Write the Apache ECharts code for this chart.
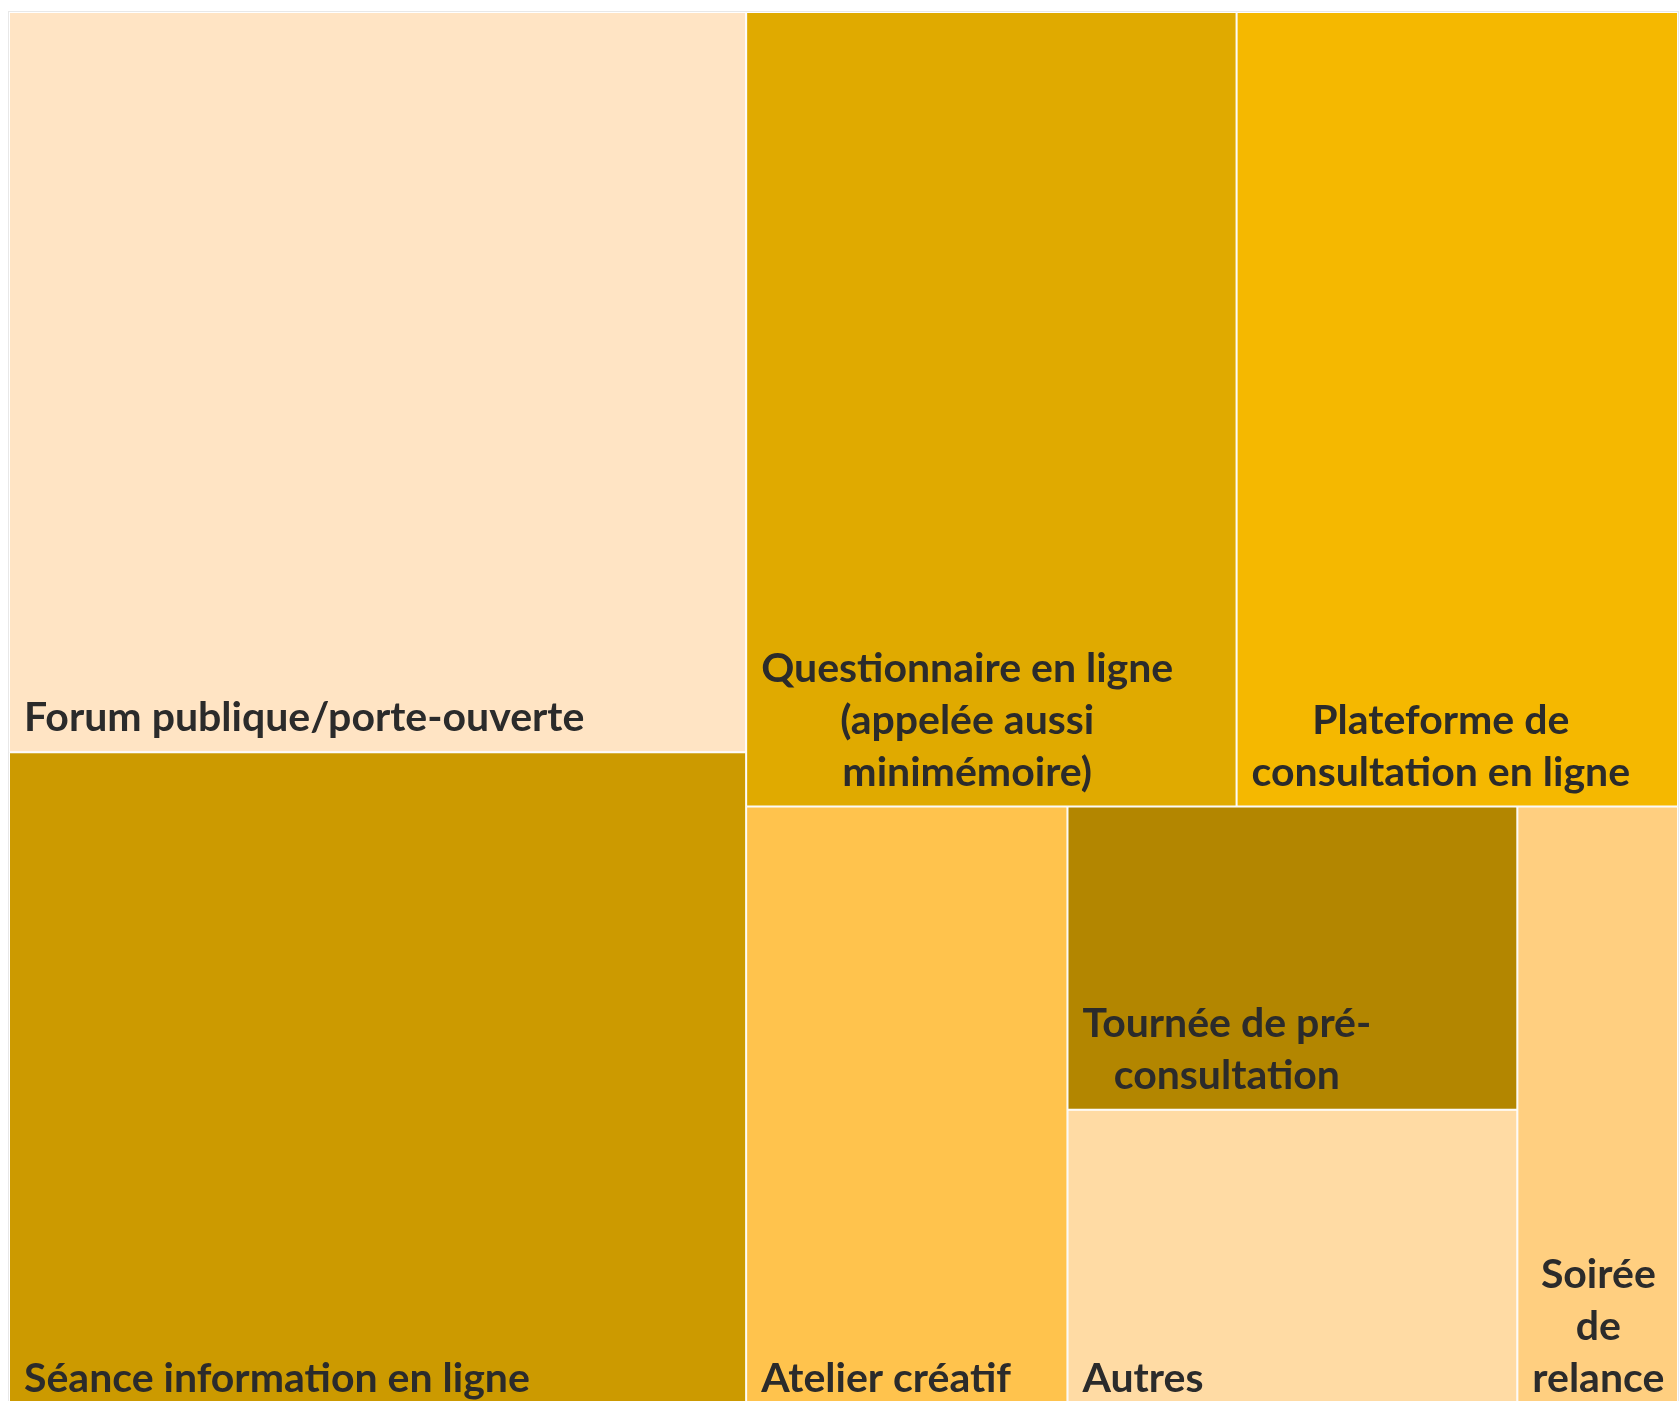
<!DOCTYPE html>
<html>
<head>
<meta charset="utf-8">
<script src="https://cdn.jsdelivr.net/npm/echarts@6/dist/echarts.min.js"></script>
<style>
  html, body { margin: 0; padding: 0; background: #fff; }
  #chart { width: 1679px; height: 1401px; }
</style>
</head>
<body>
<div id="chart"></div>
<script>
// categories (line breaks as shown in the boxes)
var categories = [
  'Forum publique/porte-ouverte',
  'Séance information en ligne',
  'Questionnaire en ligne\n(appelée aussi\nminimémoire)',
  'Plateforme de\nconsultation en ligne',
  'Atelier créatif',
  'Autres',
  'Tournée de pré-\nconsultation',
  'Soirée\nde\nrelance'
]
var values = [56, 50, 40, 36, 20, 14, 14, 10]

// one colour per box
var palette = ['#FFE4C4', '#CC9A00', '#E0AA00', '#F5B800', '#FFC34D', '#FFDBA4', '#B38600', '#FFCF80']

var FONT_SIZE = 41
var LINE_H = 52

var chart = echarts.init(document.getElementById('chart'))

function buildData(pads) {
  return categories.map(function(name, i) {
    var item = {
      name: name,
      value: values[i],
      itemStyle: { color: palette[i] }
    }
    if (pads) item.label = { padding: pads[i] }
    return item
  })
}

function buildOption(pads) {
  return {
    animation: false,
    series: [
      {
        type: 'treemap',
        left: 8,
        top: 11,
        right: 0,
        bottom: -13,
        roam: false,
        nodeClick: false,
        squareRatio: 1,
        breadcrumb: { show: false },
        data: buildData(pads),
        levels: [
          {
            itemStyle: {
              borderColor: '#e8e8e8',
              borderWidth: 1,
              gapWidth: 0
            }
          },
          {
            itemStyle: {
              borderColor: '#fff',
              borderWidth: 1,
              gapWidth: 0
            }
          }
        ],
        label: {
          show: true,
          position: 'inside',
          distance: 0,
          overflow: 'none',
          color: '#2b2b2b',
          fontFamily: 'Lato',
          fontWeight: 'bold',
          fontSize: FONT_SIZE,
          lineHeight: LINE_H,
          formatter: function(p) {
            return p.name.split('\n').map(function(l) {
              return '{c|' + l + '}'
            }).join('\n')
          },
          rich: {
            c: {
              align: 'center',
              color: '#2b2b2b',
              fontFamily: 'Lato',
              fontWeight: 'bold',
              fontSize: FONT_SIZE,
              lineHeight: LINE_H
            }
          }
        }
      }
    ]
  }
}

chart.setOption(buildOption(null))

// put each label in the bottom-left corner of its box, lines centred on each other
var ctx = document.createElement('canvas').getContext('2d')
ctx.font = 'bold ' + FONT_SIZE + 'px Lato'
var list = chart.getModel().getSeriesByIndex(0).getData()
var boxes = {}
for (var k = 0; k < list.count(); k++) {
  boxes[list.getName(k)] = list.getItemLayout(k)
}
var pads = categories.map(function(name) {
  var box = boxes[name]
  var lines = name.split('\n')
  var textW = Math.max.apply(null, lines.map(function(l) { return ctx.measureText(l).width })) + 2
  var w = box.width - 2
  var h = box.height - 2
  var pb = 7
  var pl = 13
  var pt = Math.max(h - pb - lines.length * LINE_H, 0)
  var pr = Math.max(w - pl - textW, 0)
  return [pt, pr, pb, pl]
})

chart.setOption(buildOption(pads))
</script>
</body>
</html>
